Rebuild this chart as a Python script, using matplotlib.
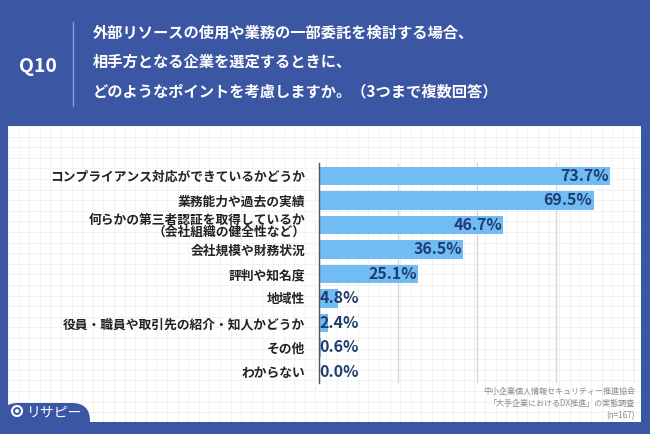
import matplotlib.pyplot as plt
import matplotlib.patches as patches
import numpy as np

plt.rcParams['font.family'] = ['Noto Sans CJK JP', 'DejaVu Sans']

# data
labels = ["コンプライアンス対応ができているかどうか",
          "業務能力や過去の実績",
          "何らかの第三者認証を取得しているか\n（会社組織の健全性など）",
          "会社規模や財務状況",
          "評判や知名度",
          "地域性",
          "役員・職員や取引先の紹介・知人かどうか",
          "その他",
          "わからない"]
values = [73.7, 69.5, 46.7, 36.5, 25.1, 4.8, 2.4, 0.6, 0.0]
xticks = [0, 20, 40, 60, 80]

title_q = "Q10"
title_lines = ["外部リソースの使用や業務の一部委託を検討する場合、",
               "相手方となる企業を選定するときに、",
               "どのようなポイントを考慮しますか。（3つまで複数回答）"]
source_lines = ["中小企業個人情報セキュリティー推進協会",
                "「大手企業におけるDX推進」の実態調査",
                "(n=167)"]

W, H = 650, 434
blue = '#3b56a3'
bar_col = '#72bcf6'
val_col = '#1f3d6d'

fig = plt.figure(figsize=(W / 100, H / 100), dpi=100)
fig.patch.set_facecolor(blue)

def fx(px):
    return px / W

def fy(py):
    return 1 - py / H

# white panel with faint grid
bg = fig.add_axes([fx(8), fy(422), fx(641 - 8), (422 - 126) / H])
bg.set_xlim(8, 641)
bg.set_ylim(422, 126)
bg.set_facecolor('white')
for gx in np.arange(8, 641, 10.6):
    bg.axvline(gx, color='#f0f0f0', lw=0.6, zorder=0)
for gy in np.arange(126, 422, 10.6):
    bg.axhline(gy, color='#f0f0f0', lw=0.6, zorder=0)
bg.set_xticks([])
bg.set_yticks([])
for s in bg.spines.values():
    s.set_visible(False)

# logo tab bottom-left
tab = patches.FancyBboxPatch((0, 403), 90, 40,
                             boxstyle="round,pad=0,rounding_size=18",
                             facecolor=blue, edgecolor='none', zorder=3)
bg.add_patch(tab)
bg.add_patch(patches.Rectangle((0, 410), 40, 20, facecolor=blue, edgecolor='none', zorder=3))
bg.add_patch(patches.Circle((17, 411), 5, facecolor='none', edgecolor='white', lw=1.5, zorder=4))
bg.add_patch(patches.Circle((17, 411), 2, facecolor='white', edgecolor='none', zorder=4))
bg.text(27, 412, "リサピー", color='white', fontsize=10,
        va='center', ha='left', zorder=5)

# source text
for i, s in enumerate(source_lines):
    bg.text(635, 391 + i * 12.5, s, color='#8a8a8a', fontsize=5.8,
            ha='right', va='center')

# header
fig.text(fx(38), fy(67), title_q, color='white', fontsize=14, fontweight='bold',
         ha='center', va='center')
fig.add_artist(plt.Line2D([fx(73), fx(73)], [fy(22), fy(106)], color='#8c9fd0', lw=1))
for i, t in enumerate(title_lines):
    fig.text(fx(93), fy(33 + i * 29), t, color='white', fontsize=11,
             fontweight='bold', ha='left', va='center')

# chart
ax = fig.add_axes([fx(319), fy(383), fx(635 - 319), (383 - 163) / H])
ax.set_facecolor('none')
y = np.arange(len(labels))
ax.barh(y, values, height=0.74, color=bar_col, zorder=2)
ax.set_xlim(0, 80)
ax.set_ylim(len(labels) - 1 + 0.45, -0.53)
ax.set_xticks(xticks)
ax.set_xticklabels([])
ax.tick_params(length=0)
ax.grid(axis='x', color='#d8d8d8', lw=1, zorder=0)
for s in ['top', 'right', 'bottom']:
    ax.spines[s].set_visible(False)
ax.spines['left'].set_color('#555555')
ax.spines['left'].set_linewidth(1)
ax.spines['left'].set_zorder(3)
ax.set_yticks(y)
ax.set_yticklabels(labels, fontsize=9.2, fontweight='bold', color='#222222',
                   linespacing=0.95)
ax.tick_params(axis='y', pad=10)

for yi, v in zip(y, values):
    if v > 15:
        ax.text(v - 0.3, yi, f"{v:.1f}%", ha='right', va='center', color=val_col,
                fontsize=11.5, fontweight='bold', zorder=4)
    else:
        ax.text(0.1, yi, f"{v:.1f}%", ha='left', va='center', color=val_col,
                fontsize=11.5, fontweight='bold', zorder=4)

fig.savefig('out.png', dpi=100, facecolor=fig.get_facecolor())
